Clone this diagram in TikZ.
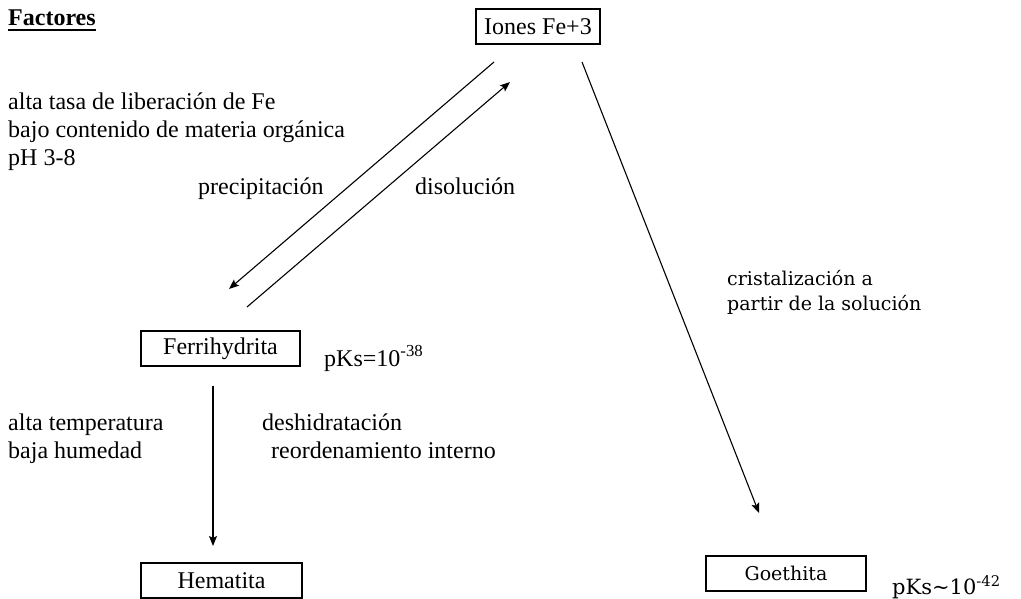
\documentclass[tikz,border=0pt]{standalone}
\usepackage{fontspec}
\setmainfont{Liberation Serif}
\newfontfamily\schfont{DejaVu Serif}
\usetikzlibrary{arrows.meta}
\begin{document}
\begin{tikzpicture}[x=1pt,y=-1pt,
  txt/.style={anchor=base west,inner sep=0pt,font=\fontsize{24}{28}\selectfont},
  sch/.style={anchor=base west,inner sep=0pt,font=\schfont\fontsize{19}{25}\selectfont},
  box/.style={draw,line width=1.2pt,inner sep=0pt,minimum height=35pt,font=\fontsize{24}{28}\selectfont},
  sbox/.style={draw,line width=1.2pt,inner sep=0pt,minimum height=35pt,font=\schfont\fontsize{19}{25}\selectfont},
  arr/.style={line width=1.1pt,-{Stealth[length=10pt,width=8pt,inset=2pt]}}]
\useasboundingbox (0,0) rectangle (1021,599);
% title
\node[txt,font=\bfseries\fontsize{24}{28}\selectfont] (fac) at (8,26) {Factores};
\draw[line width=1.4pt] ([yshift=-4pt]fac.base west) -- ([yshift=-4pt]fac.base east);
% boxes
\node[box,minimum width=124pt] (ions) at (538,26.5) {Iones Fe+3};
\node[box,minimum width=159pt] (ferri) at (220.5,348.5) {Ferrihydrita};
\node[box,minimum width=161pt] (hema) at (221.5,580.5) {Hematita};
\node[sbox,minimum width=160pt] (goe) at (786,573.5) {Goethita};
% factor texts
\node[txt] (f1) at (8,110) {alta tasa de liberación de Fe};
\node[txt] (f2) at (8,138) {bajo contenido de materia orgánica};
\node[txt] (f3) at (8,166) {pH 3-8};
\node[txt] (prec) at (198,195) {precipitación};
\node[txt] (diso) at (415,195) {disolución};
\node[txt] (pks1) at (324,366) {pKs=10\textsuperscript{-38}};
\node[txt] (t1) at (8,430) {alta temperatura};
\node[txt] (t2) at (8,458) {baja humedad};
\node[txt] (d1) at (262,430) {deshidratación};
\node[txt] (d2) at (271,458) {reordenamiento interno};
\node[sch] (c1) at (727,285) {cristalización a};
\node[sch] (c2) at (727,310) {partir de la solución};
\node[sch,font=\schfont\fontsize{21}{25}\selectfont] (pks2) at (892,594) {pKs\textasciitilde10\textsuperscript{-42}};
% connector end points
\coordinate (pA) at (494,62);
\coordinate (pB) at (229,289);
\coordinate (dA) at (247,307);
\coordinate (dB) at (510,82);
\coordinate (gA) at (582,62);
\coordinate (gB) at (759,513);
\coordinate (hA) at (213,386);
\coordinate (hB) at (213,546);
\draw[arr] (pA) -- (pB);
\draw[arr] (dA) -- (dB);
\draw[arr] (gA) -- (gB);
\draw[arr] (hA) -- (hB);
\end{tikzpicture}
\end{document}
